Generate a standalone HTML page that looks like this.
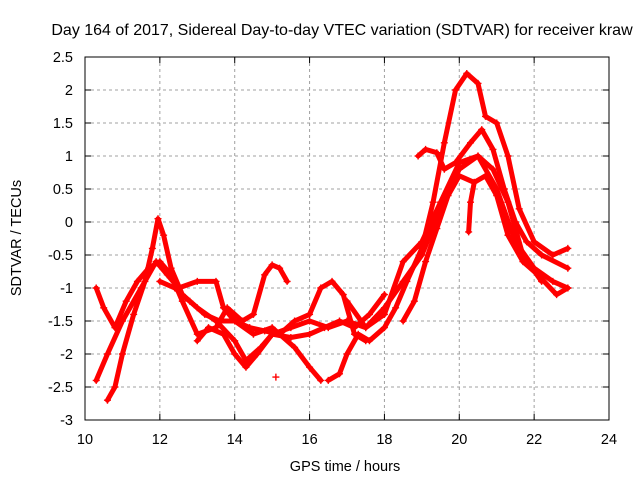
<!DOCTYPE html>
<html><head><meta charset="utf-8"><style>
body{margin:0;background:#fff;}
svg text{font-family:"Liberation Sans",sans-serif;font-size:14.5px;fill:#000;}
</style></head><body>
<svg id="chart" width="640" height="480" xmlns="http://www.w3.org/2000/svg">
<rect width="640" height="480" fill="#fff"/>
<g id="grid"></g><g id="marks"></g><g id="axes"></g>
</svg>
<script>
const xTicks=[10,12,14,16,18,20,22,24];
const yTicks=[2.5,2,1.5,1,0.5,0,-0.5,-1,-1.5,-2,-2.5,-3];
const track1=[[10.6,-2.7],[10.8,-2.5],[11.0,-2.0],[11.3,-1.4],[11.6,-0.9],[11.8,-0.4],[11.95,0.05],[12.1,-0.2],[12.3,-0.7],[12.6,-1.1],[13.0,-1.3],[13.5,-1.5],[14.0,-1.8],[14.3,-2.1],[14.7,-1.9],[15.0,-1.7],[15.5,-1.6],[16.0,-1.5],[16.5,-1.6],[17.0,-1.5],[17.5,-1.6],[18.0,-1.3],[18.5,-0.9],[19.0,-0.5],[19.5,0.2],[20.0,0.8],[20.5,1.0],[21.0,0.5],[21.5,-0.3],[22.0,-0.7],[22.5,-0.9],[22.9,-1.0]];
const track2=[[10.3,-2.4],[10.6,-2.0],[11.0,-1.5],[11.5,-1.0],[11.9,-0.6],[12.2,-0.8],[12.5,-1.0],[13.0,-0.9],[13.5,-0.9],[13.7,-1.3],[14.0,-1.5],[14.5,-1.7],[15.0,-1.6],[15.6,-1.9],[16.0,-2.2],[16.3,-2.4]];
const track3=[[16.5,-2.4],[16.8,-2.3],[17.0,-2.0],[17.3,-1.7],[17.6,-1.8],[18.0,-1.6],[18.3,-1.3],[18.6,-0.9],[19.0,-0.4],[19.3,0.3],[19.6,1.2],[19.9,2.0],[20.2,2.25],[20.5,2.1],[20.7,1.6],[21.0,1.5],[21.3,1.0],[21.6,0.2],[22.0,-0.3],[22.5,-0.5],[22.9,-0.4]];
const track4=[[18.9,1.0],[19.1,1.1],[19.4,1.05],[19.6,0.8],[19.9,0.9],[20.3,1.2],[20.6,1.4],[20.9,1.1],[21.2,0.5],[21.5,0.0],[21.8,-0.3],[22.2,-0.5],[22.9,-0.7]];
const track5=[[18.5,-1.5],[18.8,-1.2],[19.1,-0.6],[19.4,-0.1],[19.7,0.4],[20.0,0.7],[20.4,0.6],[20.7,0.7],[21.0,0.4],[21.3,-0.2],[21.7,-0.6],[22.1,-0.8],[22.6,-1.1],[22.9,-1.0]];
const track6=[[17.0,-1.2],[17.5,-1.6],[18.0,-1.4],[18.5,-0.6],[19.0,-0.3],[19.5,0.3],[20.0,0.9],[20.5,1.0],[20.9,0.8],[21.3,0.3],[21.7,-0.5],[22.2,-0.9]];
const track7=[[10.3,-1.0],[10.5,-1.3],[10.8,-1.6],[11.1,-1.2],[11.4,-0.9],[11.7,-0.7],[12.0,-0.6],[12.3,-0.8],[12.6,-1.2],[13.0,-1.7],[13.5,-1.6],[13.8,-1.3],[14.2,-1.5],[14.5,-1.4],[14.8,-0.8],[15.0,-0.65],[15.2,-0.7],[15.4,-0.9]];
const track8=[[12.0,-0.9],[12.4,-1.0],[12.8,-1.2],[13.2,-1.4],[13.6,-1.5],[14.0,-1.5],[14.4,-1.6],[14.8,-1.65],[15.2,-1.7],[15.6,-1.5],[16.0,-1.4],[16.3,-1.0],[16.6,-0.9],[16.9,-1.1],[17.2,-1.7],[17.5,-1.8]];
const track9=[[13.0,-1.8],[13.3,-1.6],[13.7,-1.7],[14.0,-2.0],[14.3,-2.2],[14.6,-2.0],[15.0,-1.7],[15.5,-1.75],[16.0,-1.7],[16.4,-1.6],[16.8,-1.5],[17.2,-1.6],[17.6,-1.4],[18.0,-1.1]];
const track10=[[20.25,-0.15],[20.3,0.3],[20.4,0.6]];
const isolated=[[15.1,-2.35]];
const tracks=[track1,track2,track3,track4,track5,track6,track7,track8,track9,track10];

const X0=85,X1=609,Y0=57,Y1=420;
const xs=v=>X0+(v-10)/(24-10)*(X1-X0);
const ys=v=>Y1-(v+3)/(2.5+3)*(Y1-Y0);
const NS="http://www.w3.org/2000/svg";
function mk(t,a,p){const e=document.createElementNS(NS,t);for(const k in a)e.setAttribute(k,a[k]);p.appendChild(e);return e;}
const grid=document.getElementById('grid'),marks=document.getElementById('marks'),axes=document.getElementById('axes');
xTicks.forEach(t=>{const x=xs(t);
 if(t>10&&t<24){const g=mk('line',{x1:x,x2:x,y1:Y0,y2:Y1,stroke:'#a0a0a0','stroke-dasharray':'3,3'},grid);
 }
 mk('line',{x1:x,x2:x,y1:Y1,y2:Y1-6,stroke:'#000'},axes);mk('line',{x1:x,x2:x,y1:Y0,y2:Y0+6,stroke:'#000'},axes);
 const l=mk('text',{x:x,y:Y1+24,'text-anchor':'middle'},axes);l.textContent=t;
 
 });
yTicks.forEach(t=>{const y=ys(t);
 if(t>-3&&t<2.5){const g=mk('line',{x1:X0,x2:X1,y1:y,y2:y,stroke:'#a0a0a0','stroke-dasharray':'3,3'},grid);
 }
 mk('line',{x1:X0,x2:X0+6,y1:y,y2:y,stroke:'#000'},axes);mk('line',{x1:X1,x2:X1-6,y1:y,y2:y,stroke:'#000'},axes);
 const l=mk('text',{x:X0-12,y:y+5,'text-anchor':'end'},axes);l.textContent=t;
 
 });
const box=mk('rect',{x:X0,y:Y0,width:X1-X0,height:Y1-Y0,fill:'none',stroke:'#000'},axes);

function plus(x,y){const p=mk('path',{d:`M${x-3.5} ${y}h7M${x} ${y-3.5}v7`,stroke:'#f00','stroke-width':1.4},marks);
 }
tracks.forEach(tr=>{
 const pl=mk('polyline',{points:tr.map(p=>xs(p[0])+','+ys(p[1])).join(' '),fill:'none',stroke:'#f00','stroke-width':5,'stroke-linejoin':'round','stroke-linecap':'round'},marks);
 
 
 tr.forEach(p=>plus(xs(p[0]),ys(p[1])));});
isolated.forEach(p=>plus(xs(p[0]),ys(p[1])));
const t=mk('text',{x:342,y:35,'text-anchor':'middle',style:'font-size:16px'},axes);t.textContent='Day 164 of 2017, Sidereal Day-to-day VTEC variation (SDTVAR) for receiver kraw';

const xl=mk('text',{x:345,y:471,'text-anchor':'middle'},axes);xl.textContent='GPS time / hours';

const yl=mk('text',{x:0,y:0,'text-anchor':'middle',transform:'translate(21,238) rotate(-90)'},axes);yl.textContent='SDTVAR / TECUs';

</script>
</body></html>
